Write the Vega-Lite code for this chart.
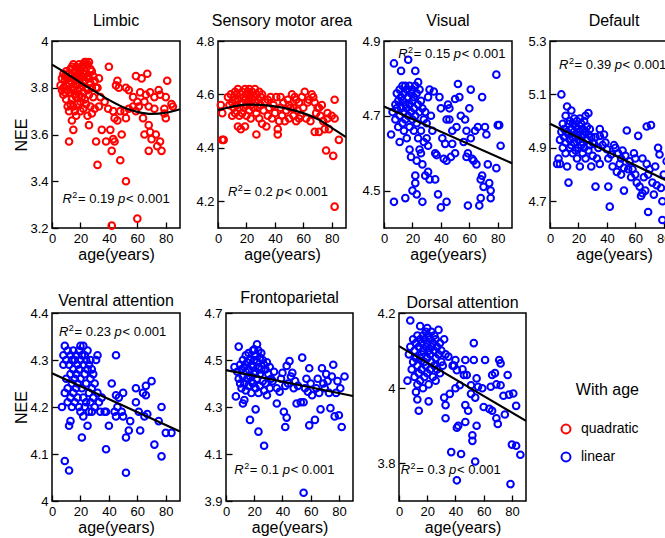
{
"$schema":"https://vega.github.io/schema/vega-lite/v6.json",
"padding":{"left":13,"top":12,"right":0,"bottom":0},
"datasets":{
"lim":[{"age":6,"nee":3.81},{"age":7,"nee":3.79},{"age":7,"nee":3.84},{"age":8,"nee":3.86},{"age":8,"nee":3.80},{"age":8,"nee":3.77},{"age":9,"nee":3.83},{"age":9,"nee":3.78},{"age":9,"nee":3.85},{"age":10,"nee":3.81},{"age":10,"nee":3.87},{"age":10,"nee":3.75},{"age":11,"nee":3.84},{"age":11,"nee":3.79},{"age":11,"nee":3.72},{"age":12,"nee":3.86},{"age":12,"nee":3.82},{"age":12,"nee":3.70},{"age":12,"nee":3.57},{"age":13,"nee":3.88},{"age":13,"nee":3.83},{"age":13,"nee":3.78},{"age":13,"nee":3.73},{"age":14,"nee":3.89},{"age":14,"nee":3.85},{"age":14,"nee":3.80},{"age":14,"nee":3.75},{"age":14,"nee":3.66},{"age":15,"nee":3.90},{"age":15,"nee":3.84},{"age":15,"nee":3.79},{"age":15,"nee":3.72},{"age":15,"nee":3.62},{"age":16,"nee":3.87},{"age":16,"nee":3.83},{"age":16,"nee":3.77},{"age":16,"nee":3.70},{"age":17,"nee":3.89},{"age":17,"nee":3.85},{"age":17,"nee":3.81},{"age":17,"nee":3.76},{"age":17,"nee":3.68},{"age":18,"nee":3.88},{"age":18,"nee":3.84},{"age":18,"nee":3.79},{"age":18,"nee":3.73},{"age":19,"nee":3.90},{"age":19,"nee":3.86},{"age":19,"nee":3.82},{"age":19,"nee":3.77},{"age":20,"nee":3.88},{"age":20,"nee":3.84},{"age":20,"nee":3.80},{"age":20,"nee":3.74},{"age":20,"nee":3.70},{"age":21,"nee":3.89},{"age":21,"nee":3.85},{"age":21,"nee":3.81},{"age":21,"nee":3.76},{"age":22,"nee":3.90},{"age":22,"nee":3.86},{"age":22,"nee":3.82},{"age":22,"nee":3.78},{"age":22,"nee":3.71},{"age":23,"nee":3.91},{"age":23,"nee":3.87},{"age":23,"nee":3.83},{"age":23,"nee":3.75},{"age":24,"nee":3.91},{"age":24,"nee":3.86},{"age":24,"nee":3.80},{"age":24,"nee":3.73},{"age":25,"nee":3.90},{"age":25,"nee":3.85},{"age":25,"nee":3.79},{"age":25,"nee":3.68},{"age":26,"nee":3.91},{"age":26,"nee":3.84},{"age":26,"nee":3.77},{"age":26,"nee":3.64},{"age":27,"nee":3.88},{"age":27,"nee":3.82},{"age":27,"nee":3.72},{"age":28,"nee":3.87},{"age":28,"nee":3.80},{"age":28,"nee":3.69},{"age":29,"nee":3.85},{"age":29,"nee":3.76},{"age":30,"nee":3.83},{"age":30,"nee":3.71},{"age":31,"nee":3.80},{"age":31,"nee":3.57},{"age":32,"nee":3.47},{"age":32,"nee":3.80},{"age":33,"nee":3.84},{"age":33,"nee":3.72},{"age":34,"nee":3.76},{"age":35,"nee":3.62},{"age":37,"nee":3.74},{"age":38,"nee":3.57},{"age":40,"nee":3.89},{"age":39.5,"nee":3.71},{"age":41,"nee":3.62},{"age":42,"nee":3.53},{"age":42,"nee":3.21},{"age":43,"nee":3.70},{"age":43,"nee":3.58},{"age":44,"nee":3.67},{"age":44,"nee":3.57},{"age":45,"nee":3.81},{"age":46,"nee":3.83},{"age":46,"nee":3.66},{"age":47,"nee":3.80},{"age":48,"nee":3.70},{"age":48,"nee":3.49},{"age":49,"nee":3.60},{"age":51,"nee":3.70},{"age":52,"nee":3.80},{"age":52,"nee":3.67},{"age":52,"nee":3.40},{"age":54,"nee":3.79},{"age":54,"nee":3.71},{"age":57,"nee":3.76},{"age":57,"nee":3.72},{"age":59,"nee":3.85},{"age":59,"nee":3.70},{"age":60,"nee":3.74},{"age":60,"nee":3.24},{"age":61,"nee":3.72},{"age":62,"nee":3.78},{"age":63,"nee":3.84},{"age":64,"nee":3.67},{"age":65,"nee":3.74},{"age":65,"nee":3.60},{"age":66,"nee":3.77},{"age":67,"nee":3.86},{"age":68,"nee":3.72},{"age":68,"nee":3.64},{"age":68,"nee":3.53},{"age":69,"nee":3.78},{"age":69,"nee":3.61},{"age":70,"nee":3.58},{"age":72,"nee":3.71},{"age":72,"nee":3.76},{"age":73,"nee":3.60},{"age":74,"nee":3.55},{"age":75,"nee":3.79},{"age":76,"nee":3.77},{"age":76,"nee":3.57},{"age":77,"nee":3.53},{"age":79,"nee":3.71},{"age":79,"nee":3.69},{"age":80,"nee":3.76},{"age":80,"nee":3.67},{"age":81,"nee":3.83},{"age":84,"nee":3.73},{"age":85,"nee":3.72}],
"sen":[{"age":3,"nee":4.43},{"age":4,"nee":4.43},{"age":3,"nee":4.53},{"age":2,"nee":4.56},{"age":7,"nee":4.59},{"age":8,"nee":4.56},{"age":9,"nee":4.60},{"age":10,"nee":4.57},{"age":10,"nee":4.52},{"age":11,"nee":4.59},{"age":11,"nee":4.55},{"age":12,"nee":4.61},{"age":12,"nee":4.58},{"age":12,"nee":4.53},{"age":13,"nee":4.60},{"age":13,"nee":4.56},{"age":14,"nee":4.48},{"age":14,"nee":4.62},{"age":14,"nee":4.58},{"age":15,"nee":4.55},{"age":15,"nee":4.52},{"age":16,"nee":4.60},{"age":16,"nee":4.47},{"age":17,"nee":4.61},{"age":17,"nee":4.57},{"age":17,"nee":4.53},{"age":18,"nee":4.59},{"age":18,"nee":4.55},{"age":19,"nee":4.48},{"age":19,"nee":4.62},{"age":19,"nee":4.58},{"age":20,"nee":4.60},{"age":20,"nee":4.56},{"age":20,"nee":4.52},{"age":21,"nee":4.61},{"age":21,"nee":4.57},{"age":22,"nee":4.62},{"age":22,"nee":4.59},{"age":22,"nee":4.54},{"age":23,"nee":4.60},{"age":23,"nee":4.56},{"age":23,"nee":4.51},{"age":24,"nee":4.61},{"age":24,"nee":4.58},{"age":25,"nee":4.59},{"age":25,"nee":4.55},{"age":26,"nee":4.62},{"age":26,"nee":4.57},{"age":27,"nee":4.45},{"age":27,"nee":4.60},{"age":27,"nee":4.53},{"age":28,"nee":4.58},{"age":28,"nee":4.55},{"age":29,"nee":4.61},{"age":29,"nee":4.51},{"age":30,"nee":4.59},{"age":30,"nee":4.56},{"age":31,"nee":4.49},{"age":31,"nee":4.60},{"age":32,"nee":4.54},{"age":33,"nee":4.57},{"age":34,"nee":4.48},{"age":35,"nee":4.58},{"age":35,"nee":4.52},{"age":36,"nee":4.55},{"age":37,"nee":4.59},{"age":38,"nee":4.51},{"age":39,"nee":4.56},{"age":40,"nee":4.53},{"age":41,"nee":4.59},{"age":42,"nee":4.47},{"age":42,"nee":4.45},{"age":43,"nee":4.50},{"age":44,"nee":4.59},{"age":44,"nee":4.55},{"age":45,"nee":4.52},{"age":46,"nee":4.57},{"age":47,"nee":4.50},{"age":48,"nee":4.54},{"age":49,"nee":4.58},{"age":50,"nee":4.51},{"age":50,"nee":4.56},{"age":51,"nee":4.55},{"age":52,"nee":4.60},{"age":53,"nee":4.52},{"age":53,"nee":4.55},{"age":54,"nee":4.59},{"age":55,"nee":4.50},{"age":55,"nee":4.58},{"age":56,"nee":4.54},{"age":57,"nee":4.57},{"age":57,"nee":4.51},{"age":58,"nee":4.52},{"age":59,"nee":4.59},{"age":60,"nee":4.55},{"age":61,"nee":4.61},{"age":62,"nee":4.51},{"age":63,"nee":4.57},{"age":64,"nee":4.58},{"age":65,"nee":4.50},{"age":66,"nee":4.60},{"age":67,"nee":4.59},{"age":68,"nee":4.46},{"age":68,"nee":4.57},{"age":69,"nee":4.53},{"age":70,"nee":4.55},{"age":71,"nee":4.46},{"age":71,"nee":4.55},{"age":72,"nee":4.52},{"age":73,"nee":4.56},{"age":74,"nee":4.50},{"age":75,"nee":4.47},{"age":76,"nee":4.39},{"age":77,"nee":4.51},{"age":77,"nee":4.53},{"age":78,"nee":4.47},{"age":80,"nee":4.52},{"age":81,"nee":4.37},{"age":82,"nee":4.58},{"age":82,"nee":4.51},{"age":82,"nee":4.18},{"age":85,"nee":4.43}],
"vis":[{"age":5,"nee":4.65},{"age":6,"nee":4.71},{"age":7,"nee":4.84},{"age":7,"nee":4.47},{"age":8,"nee":4.69},{"age":8,"nee":4.73},{"age":9,"nee":4.72},{"age":9,"nee":4.76},{"age":10,"nee":4.67},{"age":10,"nee":4.74},{"age":11,"nee":4.63},{"age":11,"nee":4.77},{"age":11,"nee":4.70},{"age":12,"nee":4.82},{"age":12,"nee":4.75},{"age":12,"nee":4.72},{"age":13,"nee":4.78},{"age":13,"nee":4.74},{"age":13,"nee":4.68},{"age":14,"nee":4.76},{"age":14,"nee":4.71},{"age":14,"nee":4.66},{"age":15,"nee":4.48},{"age":15,"nee":4.78},{"age":15,"nee":4.73},{"age":15,"nee":4.69},{"age":16,"nee":4.77},{"age":16,"nee":4.72},{"age":16,"nee":4.64},{"age":17,"nee":4.85},{"age":17,"nee":4.75},{"age":17,"nee":4.70},{"age":18,"nee":4.78},{"age":18,"nee":4.73},{"age":18,"nee":4.67},{"age":18,"nee":4.61},{"age":19,"nee":4.76},{"age":19,"nee":4.71},{"age":19,"nee":4.59},{"age":20,"nee":4.77},{"age":20,"nee":4.74},{"age":20,"nee":4.69},{"age":20,"nee":4.50},{"age":21,"nee":4.75},{"age":21,"nee":4.72},{"age":21,"nee":4.66},{"age":22,"nee":4.82},{"age":22,"nee":4.78},{"age":22,"nee":4.70},{"age":22,"nee":4.54},{"age":22,"nee":4.52},{"age":23,"nee":4.76},{"age":23,"nee":4.68},{"age":23,"nee":4.58},{"age":23,"nee":4.49},{"age":24,"nee":4.79},{"age":24,"nee":4.73},{"age":24,"nee":4.64},{"age":25,"nee":4.77},{"age":25,"nee":4.71},{"age":25,"nee":4.61},{"age":26,"nee":4.74},{"age":26,"nee":4.66},{"age":26,"nee":4.60},{"age":27,"nee":4.72},{"age":27,"nee":4.47},{"age":27,"nee":4.57},{"age":28,"nee":4.69},{"age":28,"nee":4.63},{"age":29,"nee":4.71},{"age":29,"nee":4.54},{"age":30,"nee":4.64},{"age":30,"nee":4.68},{"age":31,"nee":4.75},{"age":31,"nee":4.55},{"age":31,"nee":4.62},{"age":32,"nee":4.77},{"age":32,"nee":4.53},{"age":33,"nee":4.70},{"age":34,"nee":4.66},{"age":35,"nee":4.765},{"age":36,"nee":4.60},{"age":36,"nee":4.53},{"age":37,"nee":4.595},{"age":38,"nee":4.49},{"age":39,"nee":4.75},{"age":40,"nee":4.455},{"age":40,"nee":4.72},{"age":41,"nee":4.64},{"age":42,"nee":4.585},{"age":43,"nee":4.625},{"age":44,"nee":4.69},{"age":44,"nee":4.58},{"age":44,"nee":4.47},{"age":45,"nee":4.73},{"age":46,"nee":4.72},{"age":46,"nee":4.69},{"age":47,"nee":4.59},{"age":48,"nee":4.66},{"age":48,"nee":4.625},{"age":50,"nee":4.745},{"age":50,"nee":4.60},{"age":51,"nee":4.67},{"age":52,"nee":4.785},{"age":53,"nee":4.75},{"age":54,"nee":4.70},{"age":56,"nee":4.63},{"age":57,"nee":4.69},{"age":58,"nee":4.66},{"age":58,"nee":4.59},{"age":59,"nee":4.60},{"age":59,"nee":4.46},{"age":60,"nee":4.72},{"age":61,"nee":4.77},{"age":61,"nee":4.64},{"age":62,"nee":4.585},{"age":63,"nee":4.58},{"age":64,"nee":4.66},{"age":65,"nee":4.57},{"age":66,"nee":4.67},{"age":67,"nee":4.46},{"age":68,"nee":4.48},{"age":68,"nee":4.53},{"age":69,"nee":4.75},{"age":69,"nee":4.54},{"age":70,"nee":4.51},{"age":71,"nee":4.67},{"age":72,"nee":4.65},{"age":73,"nee":4.57},{"age":74,"nee":4.52},{"age":75,"nee":4.50},{"age":75,"nee":4.48},{"age":79,"nee":4.56},{"age":79,"nee":4.81},{"age":80,"nee":4.675},{"age":81,"nee":4.675},{"age":82,"nee":4.62}],
"def":[{"age":5,"nee":4.84},{"age":6,"nee":4.86},{"age":7,"nee":4.84},{"age":7,"nee":4.93},{"age":8,"nee":5.10},{"age":8,"nee":4.96},{"age":9,"nee":4.90},{"age":9,"nee":4.99},{"age":10,"nee":4.94},{"age":10,"nee":4.97},{"age":11,"nee":5.02},{"age":11,"nee":4.92},{"age":11,"nee":4.88},{"age":12,"nee":5.055},{"age":12,"nee":4.96},{"age":12,"nee":4.83},{"age":13,"nee":4.95},{"age":13,"nee":4.99},{"age":13,"nee":4.77},{"age":14,"nee":5.00},{"age":14,"nee":4.93},{"age":14,"nee":4.90},{"age":15,"nee":5.04},{"age":15,"nee":4.97},{"age":15,"nee":4.91},{"age":16,"nee":4.99},{"age":16,"nee":4.94},{"age":16,"nee":4.88},{"age":17,"nee":5.01},{"age":17,"nee":4.96},{"age":17,"nee":4.92},{"age":18,"nee":4.98},{"age":18,"nee":4.94},{"age":18,"nee":4.89},{"age":19,"nee":5.00},{"age":19,"nee":4.95},{"age":19,"nee":4.86},{"age":20,"nee":4.97},{"age":20,"nee":4.93},{"age":20,"nee":4.90},{"age":21,"nee":5.01},{"age":21,"nee":4.96},{"age":21,"nee":4.83},{"age":22,"nee":4.99},{"age":22,"nee":4.94},{"age":22,"nee":4.91},{"age":23,"nee":4.97},{"age":23,"nee":4.92},{"age":23,"nee":4.88},{"age":24,"nee":5.00},{"age":24,"nee":4.95},{"age":24,"nee":4.90},{"age":25,"nee":5.02},{"age":25,"nee":4.96},{"age":25,"nee":4.86},{"age":26,"nee":4.98},{"age":26,"nee":4.93},{"age":27,"nee":5.03},{"age":27,"nee":4.95},{"age":27,"nee":4.89},{"age":28,"nee":4.97},{"age":28,"nee":4.91},{"age":29,"nee":4.94},{"age":29,"nee":4.83},{"age":30,"nee":4.92},{"age":30,"nee":4.87},{"age":31,"nee":4.915},{"age":32,"nee":4.94},{"age":32,"nee":4.755},{"age":33,"nee":4.86},{"age":34,"nee":4.90},{"age":35,"nee":4.97},{"age":35,"nee":4.84},{"age":35,"nee":4.945},{"age":37,"nee":4.91},{"age":38,"nee":4.95},{"age":39,"nee":4.92},{"age":40,"nee":4.895},{"age":41,"nee":4.755},{"age":41,"nee":4.86},{"age":42,"nee":4.68},{"age":43,"nee":4.875},{"age":44,"nee":4.83},{"age":45,"nee":4.91},{"age":46,"nee":4.90},{"age":47,"nee":4.81},{"age":48,"nee":4.88},{"age":49,"nee":4.84},{"age":50,"nee":4.86},{"age":50,"nee":4.80},{"age":51,"nee":4.89},{"age":52,"nee":4.74},{"age":52,"nee":4.825},{"age":53,"nee":4.87},{"age":54,"nee":4.965},{"age":55,"nee":4.82},{"age":56,"nee":4.85},{"age":57,"nee":4.79},{"age":58,"nee":4.82},{"age":59,"nee":4.88},{"age":60,"nee":4.80},{"age":60,"nee":4.86},{"age":61,"nee":4.77},{"age":62,"nee":4.945},{"age":63,"nee":4.755},{"age":64,"nee":4.72},{"age":65,"nee":4.73},{"age":65,"nee":4.86},{"age":66,"nee":4.79},{"age":67,"nee":4.74},{"age":68,"nee":4.98},{"age":68,"nee":4.84},{"age":69,"nee":4.66},{"age":69,"nee":4.80},{"age":70,"nee":4.82},{"age":71,"nee":4.985},{"age":72,"nee":4.77},{"age":73,"nee":4.725},{"age":74,"nee":4.83},{"age":75,"nee":4.76},{"age":76,"nee":4.90},{"age":77,"nee":4.875},{"age":78,"nee":4.75},{"age":79,"nee":4.63},{"age":79,"nee":4.70},{"age":80,"nee":4.80},{"age":82,"nee":4.85},{"age":84,"nee":4.78},{"age":85,"nee":4.72}],
"ven":[{"age":7,"nee":4.20},{"age":8,"nee":4.31},{"age":8,"nee":4.29},{"age":9,"nee":4.33},{"age":9,"nee":4.23},{"age":9,"nee":4.085},{"age":10,"nee":4.30},{"age":10,"nee":4.26},{"age":11,"nee":4.32},{"age":11,"nee":4.24},{"age":11,"nee":4.21},{"age":12,"nee":4.29},{"age":12,"nee":4.16},{"age":12,"nee":4.065},{"age":13,"nee":4.31},{"age":13,"nee":4.27},{"age":13,"nee":4.22},{"age":13,"nee":4.17},{"age":14,"nee":4.30},{"age":14,"nee":4.25},{"age":14,"nee":4.20},{"age":15,"nee":4.32},{"age":15,"nee":4.28},{"age":15,"nee":4.23},{"age":16,"nee":4.30},{"age":16,"nee":4.26},{"age":16,"nee":4.21},{"age":17,"nee":4.31},{"age":17,"nee":4.27},{"age":17,"nee":4.24},{"age":18,"nee":4.29},{"age":18,"nee":4.25},{"age":18,"nee":4.22},{"age":19,"nee":4.32},{"age":19,"nee":4.28},{"age":19,"nee":4.20},{"age":20,"nee":4.33},{"age":20,"nee":4.30},{"age":20,"nee":4.26},{"age":20,"nee":4.19},{"age":21,"nee":4.31},{"age":21,"nee":4.24},{"age":21,"nee":4.135},{"age":22,"nee":4.33},{"age":22,"nee":4.29},{"age":22,"nee":4.22},{"age":22,"nee":4.18},{"age":23,"nee":4.31},{"age":23,"nee":4.27},{"age":23,"nee":4.20},{"age":24,"nee":4.30},{"age":24,"nee":4.25},{"age":24,"nee":4.21},{"age":25,"nee":4.32},{"age":25,"nee":4.28},{"age":25,"nee":4.16},{"age":26,"nee":4.29},{"age":26,"nee":4.23},{"age":26,"nee":4.19},{"age":27,"nee":4.30},{"age":27,"nee":4.26},{"age":27,"nee":4.21},{"age":28,"nee":4.28},{"age":28,"nee":4.24},{"age":28,"nee":4.19},{"age":29,"nee":4.27},{"age":29,"nee":4.22},{"age":30,"nee":4.25},{"age":30,"nee":4.20},{"age":31,"nee":4.30},{"age":32,"nee":4.31},{"age":32,"nee":4.23},{"age":33,"nee":4.21},{"age":34,"nee":4.19},{"age":35,"nee":4.22},{"age":37,"nee":4.19},{"age":38,"nee":4.11},{"age":38,"nee":4.19},{"age":40,"nee":4.16},{"age":42,"nee":4.25},{"age":44,"nee":4.19},{"age":45,"nee":4.31},{"age":45,"nee":4.225},{"age":45,"nee":4.18},{"age":46,"nee":4.20},{"age":47,"nee":4.22},{"age":49,"nee":4.19},{"age":50,"nee":4.18},{"age":50,"nee":4.23},{"age":52,"nee":4.135},{"age":52,"nee":4.06},{"age":54,"nee":4.15},{"age":55,"nee":4.17},{"age":59,"nee":4.24},{"age":59,"nee":4.21},{"age":61,"nee":4.19},{"age":62,"nee":4.15},{"age":64,"nee":4.23},{"age":65,"nee":4.18},{"age":66,"nee":4.245},{"age":66,"nee":4.225},{"age":67,"nee":4.185},{"age":70,"nee":4.255},{"age":72,"nee":4.12},{"age":75,"nee":4.17},{"age":77,"nee":4.20},{"age":77,"nee":4.095},{"age":80,"nee":4.145},{"age":84,"nee":4.145}],
"fro":[{"age":6,"nee":4.47},{"age":7,"nee":4.345},{"age":8,"nee":4.45},{"age":9,"nee":4.557},{"age":9,"nee":4.42},{"age":10,"nee":4.48},{"age":10,"nee":4.40},{"age":11,"nee":4.46},{"age":11,"nee":4.38},{"age":12,"nee":4.50},{"age":12,"nee":4.43},{"age":12,"nee":4.315},{"age":13,"nee":4.47},{"age":13,"nee":4.40},{"age":13,"nee":4.33},{"age":14,"nee":4.52},{"age":14,"nee":4.45},{"age":14,"nee":4.37},{"age":15,"nee":4.49},{"age":15,"nee":4.42},{"age":16,"nee":4.53},{"age":16,"nee":4.46},{"age":16,"nee":4.39},{"age":17,"nee":4.245},{"age":17,"nee":4.50},{"age":17,"nee":4.43},{"age":18,"nee":4.48},{"age":18,"nee":4.41},{"age":18,"nee":4.36},{"age":19,"nee":4.54},{"age":19,"nee":4.47},{"age":19,"nee":4.40},{"age":20,"nee":4.545},{"age":20,"nee":4.50},{"age":20,"nee":4.44},{"age":21,"nee":4.29},{"age":21,"nee":4.52},{"age":21,"nee":4.45},{"age":21,"nee":4.38},{"age":22,"nee":4.567},{"age":22,"nee":4.49},{"age":22,"nee":4.42},{"age":23,"nee":4.195},{"age":23,"nee":4.54},{"age":23,"nee":4.47},{"age":23,"nee":4.36},{"age":24,"nee":4.51},{"age":24,"nee":4.44},{"age":24,"nee":4.39},{"age":25,"nee":4.53},{"age":25,"nee":4.46},{"age":26,"nee":4.50},{"age":26,"nee":4.41},{"age":27,"nee":4.135},{"age":27,"nee":4.48},{"age":27,"nee":4.37},{"age":28,"nee":4.46},{"age":28,"nee":4.40},{"age":29,"nee":4.49},{"age":29,"nee":4.35},{"age":30,"nee":4.44},{"age":31,"nee":4.47},{"age":31,"nee":4.38},{"age":32,"nee":4.42},{"age":33,"nee":4.41},{"age":34,"nee":4.45},{"age":36,"nee":4.315},{"age":36,"nee":4.38},{"age":38,"nee":4.365},{"age":39,"nee":4.42},{"age":40,"nee":4.445},{"age":41,"nee":4.28},{"age":42,"nee":4.215},{"age":42,"nee":4.39},{"age":43,"nee":4.255},{"age":43,"nee":4.475},{"age":44,"nee":4.40},{"age":45,"nee":4.495},{"age":46,"nee":4.43},{"age":47,"nee":4.445},{"age":48,"nee":4.38},{"age":49,"nee":4.41},{"age":50,"nee":4.315},{"age":51,"nee":4.39},{"age":53,"nee":4.32},{"age":54,"nee":4.51},{"age":55,"nee":3.935},{"age":55,"nee":4.32},{"age":56,"nee":4.38},{"age":57,"nee":4.42},{"age":58,"nee":4.365},{"age":59,"nee":4.465},{"age":59,"nee":4.222},{"age":60,"nee":4.40},{"age":61,"nee":4.35},{"age":63,"nee":4.245},{"age":64,"nee":4.38},{"age":65,"nee":4.42},{"age":66,"nee":4.36},{"age":67,"nee":4.29},{"age":68,"nee":4.465},{"age":69,"nee":4.40},{"age":70,"nee":4.38},{"age":71,"nee":4.44},{"age":72,"nee":4.41},{"age":73,"nee":4.36},{"age":74,"nee":4.295},{"age":75,"nee":4.43},{"age":76,"nee":4.48},{"age":77,"nee":4.26},{"age":78,"nee":4.36},{"age":79,"nee":4.41},{"age":80,"nee":4.265},{"age":81,"nee":4.38},{"age":82,"nee":4.215},{"age":84,"nee":4.43}],
"dor":[{"age":6,"nee":4.02},{"age":7,"nee":4.09},{"age":8,"nee":4.18},{"age":8,"nee":4.11},{"age":9,"nee":4.05},{"age":10,"nee":4.13},{"age":10,"nee":4.07},{"age":11,"nee":4.10},{"age":11,"nee":4.03},{"age":12,"nee":3.99},{"age":12,"nee":4.12},{"age":12,"nee":4.08},{"age":13,"nee":4.01},{"age":13,"nee":3.97},{"age":13,"nee":4.14},{"age":13,"nee":4.06},{"age":14,"nee":3.94},{"age":14,"nee":4.11},{"age":14,"nee":4.04},{"age":15,"nee":4.165},{"age":15,"nee":4.13},{"age":15,"nee":4.08},{"age":15,"nee":4.02},{"age":16,"nee":4.12},{"age":16,"nee":4.09},{"age":16,"nee":4.05},{"age":17,"nee":4.14},{"age":17,"nee":4.10},{"age":17,"nee":4.00},{"age":18,"nee":4.13},{"age":18,"nee":4.07},{"age":18,"nee":4.03},{"age":19,"nee":4.15},{"age":19,"nee":4.11},{"age":19,"nee":4.06},{"age":20,"nee":4.16},{"age":20,"nee":4.12},{"age":20,"nee":4.08},{"age":20,"nee":4.04},{"age":21,"nee":3.965},{"age":21,"nee":4.14},{"age":21,"nee":4.10},{"age":21,"nee":4.01},{"age":22,"nee":4.13},{"age":22,"nee":4.09},{"age":22,"nee":4.05},{"age":23,"nee":4.15},{"age":23,"nee":4.11},{"age":23,"nee":4.07},{"age":24,"nee":4.12},{"age":24,"nee":4.03},{"age":25,"nee":4.14},{"age":25,"nee":4.10},{"age":25,"nee":4.06},{"age":26,"nee":4.13},{"age":26,"nee":4.08},{"age":26,"nee":4.02},{"age":27,"nee":4.11},{"age":27,"nee":4.05},{"age":28,"nee":4.155},{"age":28,"nee":4.09},{"age":29,"nee":4.12},{"age":29,"nee":4.04},{"age":30,"nee":4.10},{"age":30,"nee":4.07},{"age":31,"nee":4.06},{"age":32,"nee":3.975},{"age":32,"nee":4.13},{"age":33,"nee":3.92},{"age":33,"nee":4.09},{"age":33,"nee":3.955},{"age":35,"nee":4.084},{"age":36,"nee":3.985},{"age":37,"nee":3.83},{"age":38,"nee":4.06},{"age":39,"nee":4.06},{"age":40,"nee":4.00},{"age":40,"nee":4.075},{"age":41,"nee":3.895},{"age":41,"nee":3.755},{"age":41,"nee":4.048},{"age":42,"nee":3.90},{"age":43,"nee":4.008},{"age":44,"nee":3.825},{"age":45,"nee":4.05},{"age":46,"nee":4.035},{"age":47,"nee":4.075},{"age":47,"nee":3.955},{"age":47,"nee":3.91},{"age":48,"nee":4.035},{"age":49,"nee":3.94},{"age":51,"nee":4.008},{"age":51,"nee":3.985},{"age":52,"nee":3.875},{"age":52,"nee":3.86},{"age":53,"nee":4.12},{"age":53,"nee":4.075},{"age":54,"nee":3.805},{"age":54,"nee":3.975},{"age":55,"nee":3.90},{"age":55,"nee":4.026},{"age":56,"nee":4.004},{"age":59,"nee":4.0},{"age":60,"nee":3.95},{"age":61,"nee":4.075},{"age":64,"nee":3.945},{"age":65,"nee":4.004},{"age":66,"nee":4.035},{"age":66,"nee":3.94},{"age":68,"nee":4.04},{"age":69,"nee":4.01},{"age":69,"nee":3.92},{"age":70,"nee":3.905},{"age":71,"nee":4.075},{"age":72,"nee":4.066},{"age":72,"nee":4.008},{"age":74,"nee":3.98},{"age":75,"nee":3.93},{"age":77,"nee":4.035},{"age":78,"nee":3.983},{"age":79,"nee":3.745},{"age":80,"nee":3.85},{"age":81,"nee":3.986},{"age":83,"nee":3.953},{"age":83,"nee":3.847},{"age":86,"nee":3.823}],
"limF":[{"age":0,"nee":3.899},{"age":10,"nee":3.862},{"age":20,"nee":3.822},{"age":30,"nee":3.785},{"age":40,"nee":3.748},{"age":50,"nee":3.717},{"age":60,"nee":3.697},{"age":70,"nee":3.688},{"age":80,"nee":3.693},{"age":90,"nee":3.708}],
"senF":[{"age":0,"nee":4.541},{"age":10,"nee":4.554},{"age":20,"nee":4.562},{"age":30,"nee":4.561},{"age":40,"nee":4.555},{"age":50,"nee":4.545},{"age":60,"nee":4.53},{"age":70,"nee":4.508},{"age":80,"nee":4.475},{"age":90,"nee":4.44}],
"visF":[{"age":0,"nee":4.725},{"age":90,"nee":4.573}],
"defF":[{"age":0,"nee":4.99},{"age":90,"nee":4.757}],
"venF":[{"age":0,"nee":4.272},{"age":90,"nee":4.148}],
"froF":[{"age":0,"nee":4.457},{"age":90,"nee":4.347}],
"dorF":[{"age":0,"nee":4.112},{"age":90,"nee":3.913}]
},
"spacing":26,
"vconcat":[
{"spacing":38,"bounds":"flush","hconcat":[
{"width":128,"height":187,"title":{"text":"Limbic","offset":6},"layer":[
{"data":{"name":"lim"},"mark":"point","encoding":{"x":{"field":"age","type":"quantitative","scale":{"domain":[0,90],"nice":false},"axis":{"values":[0,20,40,60,80],"tickCount":10,"title":"age(years)","labelOverlap":false}},"y":{"field":"nee","type":"quantitative","scale":{"domain":[3.2,4],"nice":false,"zero":false},"axis":{"values":[3.2,3.4,3.6,3.8,4],"tickCount":10,"format":"~g","title":"NEE","labelOverlap":false}},"color":{"datum":"quadratic","scale":{"domain":["quadratic","linear"],"range":["#ff0000","#0000ff"]},"title":"With age"}}},
{"data":{"name":"limF"},"mark":{"type":"line","interpolate":"monotone"},"encoding":{"x":{"field":"age","type":"quantitative"},"y":{"field":"nee","type":"quantitative"}}},
{"data":{"values":[{}]},"mark":{"type":"text","text":"R","fontStyle":"italic"},"encoding":{"x":{"datum":7.4},"y":{"datum":3.308}}},
{"data":{"values":[{}]},"mark":{"type":"text","text":"2","fontSize":9,"dx":9.8,"dy":-5},"encoding":{"x":{"datum":7.4},"y":{"datum":3.308}}},
{"data":{"values":[{}]},"mark":{"type":"text","text":"= 0.19","dx":15.5},"encoding":{"x":{"datum":7.4},"y":{"datum":3.308}}},
{"data":{"values":[{}]},"mark":{"type":"text","text":"p","fontStyle":"italic","dx":55.6},"encoding":{"x":{"datum":7.4},"y":{"datum":3.308}}},
{"data":{"values":[{}]},"mark":{"type":"text","text":"< 0.001","dx":63.5},"encoding":{"x":{"datum":7.4},"y":{"datum":3.308}}}
]},
{"width":128,"height":187,"title":{"text":"Sensory motor area","offset":6},"layer":[
{"data":{"name":"sen"},"mark":"point","encoding":{"x":{"field":"age","type":"quantitative","scale":{"domain":[0,90],"nice":false},"axis":{"values":[0,20,40,60,80],"tickCount":10,"title":"age(years)","labelOverlap":false}},"y":{"field":"nee","type":"quantitative","scale":{"domain":[4.1,4.8],"nice":false,"zero":false},"axis":{"values":[4.2,4.4,4.6,4.8],"tickCount":10,"format":"~g","title":null,"labelOverlap":false}},"color":{"datum":"quadratic","scale":{"domain":["quadratic","linear"],"range":["#ff0000","#0000ff"]},"title":"With age"}}},
{"data":{"name":"senF"},"mark":{"type":"line","interpolate":"monotone"},"encoding":{"x":{"field":"age","type":"quantitative"},"y":{"field":"nee","type":"quantitative"}}},
{"data":{"values":[{}]},"mark":{"type":"text","text":"R","fontStyle":"italic"},"encoding":{"x":{"datum":7},"y":{"datum":4.218}}},
{"data":{"values":[{}]},"mark":{"type":"text","text":"2","fontSize":9,"dx":9.8,"dy":-5},"encoding":{"x":{"datum":7},"y":{"datum":4.218}}},
{"data":{"values":[{}]},"mark":{"type":"text","text":"= 0.2","dx":15.5},"encoding":{"x":{"datum":7},"y":{"datum":4.218}}},
{"data":{"values":[{}]},"mark":{"type":"text","text":"p","fontStyle":"italic","dx":48.4},"encoding":{"x":{"datum":7},"y":{"datum":4.218}}},
{"data":{"values":[{}]},"mark":{"type":"text","text":"< 0.001","dx":56.3},"encoding":{"x":{"datum":7},"y":{"datum":4.218}}}
]},
{"width":128,"height":187,"title":{"text":"Visual","offset":6},"layer":[
{"data":{"name":"vis"},"mark":"point","encoding":{"x":{"field":"age","type":"quantitative","scale":{"domain":[0,90],"nice":false},"axis":{"values":[0,20,40,60,80],"tickCount":10,"title":"age(years)","labelOverlap":false}},"y":{"field":"nee","type":"quantitative","scale":{"domain":[4.4,4.9],"nice":false,"zero":false},"axis":{"values":[4.5,4.7,4.9],"tickCount":10,"format":"~g","title":null,"labelOverlap":false}},"color":{"datum":"linear","scale":{"domain":["quadratic","linear"],"range":["#ff0000","#0000ff"]},"title":"With age"}}},
{"data":{"name":"visF"},"mark":{"type":"line"},"encoding":{"x":{"field":"age","type":"quantitative"},"y":{"field":"nee","type":"quantitative"}}},
{"data":{"values":[{}]},"mark":{"type":"text","text":"R","fontStyle":"italic"},"encoding":{"x":{"datum":10},"y":{"datum":4.855}}},
{"data":{"values":[{}]},"mark":{"type":"text","text":"2","fontSize":9,"dx":9.8,"dy":-5},"encoding":{"x":{"datum":10},"y":{"datum":4.855}}},
{"data":{"values":[{}]},"mark":{"type":"text","text":"= 0.15","dx":15.5},"encoding":{"x":{"datum":10},"y":{"datum":4.855}}},
{"data":{"values":[{}]},"mark":{"type":"text","text":"p","fontStyle":"italic","dx":55.6},"encoding":{"x":{"datum":10},"y":{"datum":4.855}}},
{"data":{"values":[{}]},"mark":{"type":"text","text":"< 0.001","dx":63.5},"encoding":{"x":{"datum":10},"y":{"datum":4.855}}}
]},
{"width":128,"height":187,"title":{"text":"Default","offset":6},"layer":[
{"data":{"name":"def"},"mark":"point","encoding":{"x":{"field":"age","type":"quantitative","scale":{"domain":[0,90],"nice":false},"axis":{"values":[0,20,40,60,80],"tickCount":10,"title":"age(years)","labelOverlap":false}},"y":{"field":"nee","type":"quantitative","scale":{"domain":[4.6,5.3],"nice":false,"zero":false},"axis":{"values":[4.7,4.9,5.1,5.3],"tickCount":10,"format":"~g","title":null,"labelOverlap":false}},"color":{"datum":"linear","scale":{"domain":["quadratic","linear"],"range":["#ff0000","#0000ff"]},"title":"With age"}}},
{"data":{"name":"defF"},"mark":{"type":"line"},"encoding":{"x":{"field":"age","type":"quantitative"},"y":{"field":"nee","type":"quantitative"}}},
{"data":{"values":[{}]},"mark":{"type":"text","text":"R","fontStyle":"italic"},"encoding":{"x":{"datum":6.4},"y":{"datum":5.197}}},
{"data":{"values":[{}]},"mark":{"type":"text","text":"2","fontSize":9,"dx":9.8,"dy":-5},"encoding":{"x":{"datum":6.4},"y":{"datum":5.197}}},
{"data":{"values":[{}]},"mark":{"type":"text","text":"= 0.39","dx":15.5},"encoding":{"x":{"datum":6.4},"y":{"datum":5.197}}},
{"data":{"values":[{}]},"mark":{"type":"text","text":"p","fontStyle":"italic","dx":55.6},"encoding":{"x":{"datum":6.4},"y":{"datum":5.197}}},
{"data":{"values":[{}]},"mark":{"type":"text","text":"< 0.001","dx":63.5},"encoding":{"x":{"datum":6.4},"y":{"datum":5.197}}}
]}
]},
{"spacing":46,"bounds":"flush","hconcat":[
{"width":128,"height":188,"title":{"text":"Ventral attention","offset":-2},"layer":[
{"data":{"name":"ven"},"mark":"point","encoding":{"x":{"field":"age","type":"quantitative","scale":{"domain":[0,90],"nice":false},"axis":{"values":[0,20,40,60,80],"tickCount":10,"title":"age(years)","labelOverlap":false}},"y":{"field":"nee","type":"quantitative","scale":{"domain":[4,4.4],"nice":false,"zero":false},"axis":{"values":[4,4.1,4.2,4.3,4.4],"tickCount":10,"format":"~g","title":"NEE","labelOverlap":false}},"color":{"datum":"linear","scale":{"domain":["quadratic","linear"],"range":["#ff0000","#0000ff"]},"title":"With age"}}},
{"data":{"name":"venF"},"mark":{"type":"line"},"encoding":{"x":{"field":"age","type":"quantitative"},"y":{"field":"nee","type":"quantitative"}}},
{"data":{"values":[{}]},"mark":{"type":"text","text":"R","fontStyle":"italic"},"encoding":{"x":{"datum":4.9},"y":{"datum":4.352}}},
{"data":{"values":[{}]},"mark":{"type":"text","text":"2","fontSize":9,"dx":9.8,"dy":-5},"encoding":{"x":{"datum":4.9},"y":{"datum":4.352}}},
{"data":{"values":[{}]},"mark":{"type":"text","text":"= 0.23","dx":15.5},"encoding":{"x":{"datum":4.9},"y":{"datum":4.352}}},
{"data":{"values":[{}]},"mark":{"type":"text","text":"p","fontStyle":"italic","dx":55.6},"encoding":{"x":{"datum":4.9},"y":{"datum":4.352}}},
{"data":{"values":[{}]},"mark":{"type":"text","text":"< 0.001","dx":63.5},"encoding":{"x":{"datum":4.9},"y":{"datum":4.352}}}
]},
{"width":127,"height":188,"title":{"text":"Frontoparietal","offset":1},"layer":[
{"data":{"name":"fro"},"mark":"point","encoding":{"x":{"field":"age","type":"quantitative","scale":{"domain":[0,90],"nice":false},"axis":{"values":[0,20,40,60,80],"tickCount":10,"title":"age(years)","labelOverlap":false}},"y":{"field":"nee","type":"quantitative","scale":{"domain":[3.9,4.7],"nice":false,"zero":false},"axis":{"values":[3.9,4.1,4.3,4.5,4.7],"tickCount":10,"format":"~g","title":null,"labelOverlap":false}},"color":{"datum":"linear","scale":{"domain":["quadratic","linear"],"range":["#ff0000","#0000ff"]},"title":"With age"}}},
{"data":{"name":"froF"},"mark":{"type":"line"},"encoding":{"x":{"field":"age","type":"quantitative"},"y":{"field":"nee","type":"quantitative"}}},
{"data":{"values":[{}]},"mark":{"type":"text","text":"R","fontStyle":"italic"},"encoding":{"x":{"datum":5.9},"y":{"datum":4.017}}},
{"data":{"values":[{}]},"mark":{"type":"text","text":"2","fontSize":9,"dx":9.8,"dy":-5},"encoding":{"x":{"datum":5.9},"y":{"datum":4.017}}},
{"data":{"values":[{}]},"mark":{"type":"text","text":"= 0.1","dx":15.5},"encoding":{"x":{"datum":5.9},"y":{"datum":4.017}}},
{"data":{"values":[{}]},"mark":{"type":"text","text":"p","fontStyle":"italic","dx":48.4},"encoding":{"x":{"datum":5.9},"y":{"datum":4.017}}},
{"data":{"values":[{}]},"mark":{"type":"text","text":"< 0.001","dx":56.3},"encoding":{"x":{"datum":5.9},"y":{"datum":4.017}}}
]},
{"width":127,"height":188,"title":{"text":"Dorsal attention","offset":-3.5},"layer":[
{"data":{"name":"dor"},"mark":"point","encoding":{"x":{"field":"age","type":"quantitative","scale":{"domain":[0,90],"nice":false},"axis":{"values":[0,20,40,60,80],"tickCount":10,"title":"age(years)","labelOverlap":false}},"y":{"field":"nee","type":"quantitative","scale":{"domain":[3.7,4.2],"nice":false,"zero":false},"axis":{"values":[3.8,4,4.2],"tickCount":10,"format":"~g","title":null,"labelOverlap":false}},"color":{"datum":"linear","scale":{"domain":["quadratic","linear"],"range":["#ff0000","#0000ff"]},"title":"With age"}}},
{"data":{"name":"dorF"},"mark":{"type":"line"},"encoding":{"x":{"field":"age","type":"quantitative"},"y":{"field":"nee","type":"quantitative"}}},
{"data":{"values":[{}]},"mark":{"type":"text","text":"R","fontStyle":"italic"},"encoding":{"x":{"datum":1.2},"y":{"datum":3.771}}},
{"data":{"values":[{}]},"mark":{"type":"text","text":"2","fontSize":9,"dx":9.8,"dy":-5},"encoding":{"x":{"datum":1.2},"y":{"datum":3.771}}},
{"data":{"values":[{}]},"mark":{"type":"text","text":"= 0.3","dx":15.5},"encoding":{"x":{"datum":1.2},"y":{"datum":3.771}}},
{"data":{"values":[{}]},"mark":{"type":"text","text":"p","fontStyle":"italic","dx":48.4},"encoding":{"x":{"datum":1.2},"y":{"datum":3.771}}},
{"data":{"values":[{}]},"mark":{"type":"text","text":"< 0.001","dx":56.3},"encoding":{"x":{"datum":1.2},"y":{"datum":3.771}}}
]}
]}
],
"config":{
"font":"Liberation Sans",
"view":{"stroke":"black","strokeWidth":1.5},
"axis":{"grid":false,"domain":false,"ticks":true,"tickSize":-6,"tickColor":"black","tickWidth":1.3,"labelFont":"Liberation Sans","labelFontSize":13,"labelColor":"black","titleFont":"Liberation Sans","titleFontSize":16,"titleFontWeight":"normal","titleColor":"black","labelOverlap":false,"labelFlush":false,"labelBound":false},
"axisX":{"labelPadding":10,"titlePadding":1},
"axisY":{"labelPadding":10,"titlePadding":0},
"title":{"font":"Liberation Sans","fontSize":16,"fontWeight":"normal","color":"black"},
"text":{"font":"Liberation Sans","fontSize":13,"align":"left","baseline":"alphabetic","color":"black"},
"point":{"filled":false,"size":44,"strokeWidth":2,"opacity":1},
"line":{"color":"black","strokeWidth":2.2},
"legend":{"orient":"none","legendX":507,"legendY":341,"titleAnchor":"end","titleFont":"Liberation Sans","titleFontSize":16,"titleFontWeight":"normal","titleColor":"black","labelFont":"Liberation Sans","labelFontSize":14,"labelColor":"black","symbolSize":80,"symbolStrokeWidth":2,"labelOffset":8,"rowPadding":10,"titlePadding":24,"symbolType":"circle"}
}
}
